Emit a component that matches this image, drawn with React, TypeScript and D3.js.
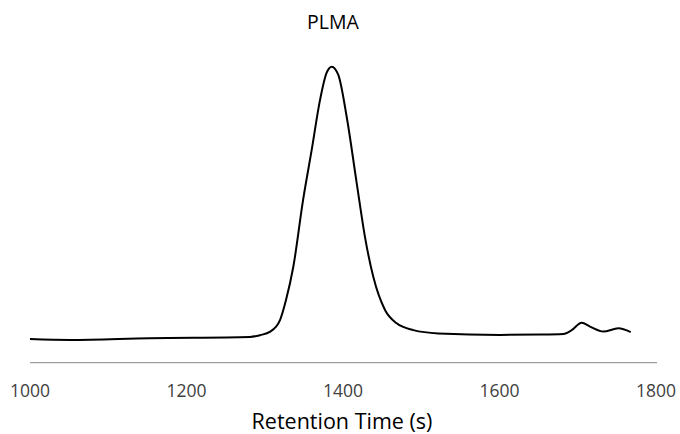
import React from "react";
import * as d3 from "d3";

const title = "PLMA";
const xLabel = "Retention Time (s)";
const xTicks = [1000, 1200, 1400, 1600, 1800];
const times = [1000, 1051, 1153, 1281, 1294, 1307, 1319.5, 1327, 1336.5, 1349, 1360, 1370.6, 1379, 1385.6, 1394, 1404.7, 1417.5, 1428, 1438.7, 1453.7, 1468.6, 1489.9, 1521.8, 1600.7, 1651.8, 1681.6, 1692.3, 1705, 1715.7, 1732.7, 1751.9, 1767.7];
const signal = [0.080, 0.077, 0.083, 0.087, 0.093, 0.105, 0.144, 0.210, 0.324, 0.55, 0.719, 0.887, 0.979, 1.0, 0.972, 0.831, 0.607, 0.426, 0.29, 0.178, 0.133, 0.110, 0.099, 0.094, 0.095, 0.097, 0.110, 0.135, 0.122, 0.105, 0.116, 0.103];

const W = 680, H = 434;
const font = "'Open Sans', sans-serif";

export default function App() {
  const x = d3.scaleLinear().domain([1000, 1800]).range([30, 656]);
  const y = d3.scaleLinear().domain([0, 1]).range([362.7, 66.7]);
  const pts: [number, number][] = times.map((t, i) => [t, signal[i]]);
  const line = d3.line<[number, number]>().x(d => x(d[0])).y(d => y(d[1])).curve(d3.curveMonotoneX);
  return (
    <svg width={W} height={H} style={{ position: "absolute", left: 0, top: 0, background: "#fff" }}>
      <text x={333} y={29} textAnchor="middle" fontFamily={font} fontSize={19.5} fill="#000">{title}</text>
      <line x1={x(1000)} x2={x(1800) + 1} y1={362.7} y2={362.7} stroke="#868686" strokeWidth={1} />
      {xTicks.map(t => (
        <text key={t} x={x(t)} y={396.5} textAnchor="middle" fontFamily={font} fontSize={17.5} fill="#404040">{t}</text>
      ))}
      <text x={342} y={429} textAnchor="middle" fontFamily={font} fontSize={21.5} fill="#000">{xLabel}</text>
      <path d={line(pts) || ""} fill="none" stroke="#000" strokeWidth={2} />
    </svg>
  );
}
